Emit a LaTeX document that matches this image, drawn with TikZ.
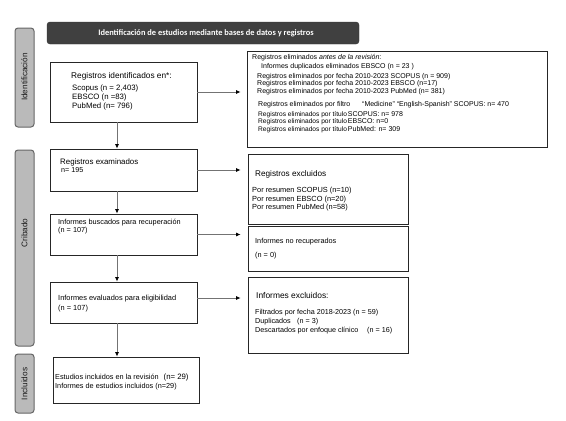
\documentclass[tikz,border=0pt]{standalone}
\usepackage{fontspec}
\setmainfont{Liberation Sans}
\newfontfamily\titlefont{Carlito}
\usetikzlibrary{arrows.meta}

\begin{document}
\begin{tikzpicture}[
  x=1pt, y=-1pt,
  box/.style    ={rectangle, draw=black!85, line width=0.9pt, inner sep=0pt},
  side/.style   ={rectangle, rounded corners=3pt, draw=black!60, fill=black!27, line width=1pt, minimum width=19pt, inner sep=0pt},
  sidetxt/.style={rotate=90, inner sep=0pt, text=black!90, font=\fontsize{8.2}{9.6}\selectfont},
  txt/.style    ={anchor=north west, inner sep=0pt, align=left},
  head/.style   ={rectangle, rounded corners=3pt, draw=black!80, fill=black!75, text=white, font=\titlefont\bfseries\fontsize{8.4}{10}\selectfont, minimum width=312pt, minimum height=22pt, inner sep=0pt},
  flow/.style   ={-{Latex[length=4.5pt,width=4pt,color=black]}, draw=black!55, line width=0.7pt},
]
\useasboundingbox (0,0) rectangle (566,421);
% phase bars
\node[side, minimum height=99pt]  (sideid)   at (24.5,77.5)  {};
\node[side, minimum height=196pt] (sidecrib) at (24.5,248)   {};
\node[side, minimum height=59pt]  (sideincl) at (24.5,383.5) {};
\node[sidetxt] (sideidtxt)   at (24.5,77)  {Identificación};
\node[sidetxt] (sidecribtxt) at (24.5,233) {Cribado};
\node[sidetxt] (sideincltxt) at (24.5,384) {Incluidos};
% header
\node[head] (title) at (203,33) {\hspace*{6pt}Identificación de estudios mediante bases de datos y registros};
% main column
\node[box, minimum width=147pt, minimum height=60pt] (ident) at (123.5,92)    {};
\node[box, minimum width=147pt, minimum height=42pt] (exam)  at (123.5,170)   {};
\node[box, minimum width=147pt, minimum height=41pt] (busc)  at (123.5,234.5) {};
\node[box, minimum width=147pt, minimum height=41pt] (eleg)  at (123.5,302.5) {};
\node[box, minimum width=146pt, minimum height=46pt] (incl)  at (126,380)     {};
% side column
\node[box, minimum width=300pt, minimum height=96pt] (elim)    at (397,99)    {};
\node[box, minimum width=160pt, minimum height=70pt] (excl)    at (328,189)   {};
\node[box, minimum width=160pt, minimum height=45pt] (norec)   at (328,248.5) {};
\node[box, minimum width=160pt, minimum height=76pt] (infexcl) at (328,315)   {};
% texts
\node[txt, font=\fontsize{7.8}{9}\selectfont] (identtxt) at (71,72.5)
  {{\fontsize{8.3}{9}\selectfont Registros identificados en*:}\\[2.8pt]
   \hspace*{1pt}Scopus (n = 2,403)\\ \hspace*{1pt}EBSCO (n =83)\\ \hspace*{1pt}PubMed (n= 796)};
\node[txt, font=\fontsize{7.9}{7.6}\selectfont] (examtxt) at (60,159)
  {Registros examinados\\\hspace*{1pt}{\fontsize{7.2}{7.6}\selectfont n= 195}};
\node[txt, font=\fontsize{7.3}{8.4}\selectfont] (busctxt) at (58,219)
  {Informes buscados para recuperación\\(n = 107)};
\node[txt, font=\fontsize{7.4}{10}\selectfont] (elegtxt) at (58,295)
  {Informes evaluados para eligibilidad\\(n = 107)};
\node[txt, font=\fontsize{7.3}{8.3}\selectfont] (incltxt) at (55,374)
  {Estudios incluidos en la revisión\hspace{5pt}{\fontsize{7.8}{8.3}\selectfont(n= 29)}\\Informes de estudios incluidos (n=29)};
\node[txt, font=\fontsize{7}{7.7}\selectfont] (elimtxt) at (252,54)
  {Registros eliminados \textit{antes de la revisión}:\\[1.5pt]
   \hspace*{9pt}Informes duplicados eliminados EBSCO (n = 23 )\\[1.8pt]
   \hspace*{5pt}Registros eliminados por fecha 2010-2023 SCOPUS (n = 909)\\
   \hspace*{5pt}Registros eliminados por fecha 2010-2023 EBSCO (n=17)\\
   \hspace*{5pt}Registros eliminados por fecha 2010-2023 PubMed (n= 381)\\[5pt]
   \hspace*{6pt}\makebox[104pt][l]{Registros eliminados por filtro}“Medicine” “English-Spanish” SCOPUS: n= 470\\[2.3pt]
   \hspace*{6pt}{\fontsize{6.6}{7.7}\selectfont Registros eliminados por título}\hspace{1pt}SCOPUS: n= 978\\
   \hspace*{6pt}{\fontsize{6.6}{7.7}\selectfont Registros eliminados por título}\hspace{1pt}EBSCO: n=0\\
   \hspace*{6pt}{\fontsize{6.6}{7.7}\selectfont Registros eliminados por título}\hspace{1pt}PubMed: n= 309};
\node[txt, font=\fontsize{7.4}{8.3}\selectfont] (excltxt) at (252,170)
  {\hspace*{3pt}{\fontsize{8.2}{9}\selectfont Registros excluidos}\\[8.5pt]
   Por resumen SCOPUS (n=10)\\ Por resumen EBSCO (n=20)\\ Por resumen PubMed (n=58)};
\node[txt, font=\fontsize{7.3}{8.5}\selectfont] (norectxt) at (255,238)
  {Informes no recuperados\\[5.8pt](n = 0)};
\node[txt, font=\fontsize{7.2}{9}\selectfont] (infexcltxt) at (255,292.5)
  {\hspace*{1pt}{\fontsize{8.4}{9}\selectfont Informes excluidos:}\\[6.6pt]
   Filtrados por fecha 2018-2023 (n = 59)\\
   \makebox[42pt][l]{Duplicados}(n = 3)\\
   \makebox[112pt][l]{Descartados por enfoque clínico}(n = 16)};
% arrows
\coordinate (spine) at (117,0);
\draw[flow] (ident.south -| spine) -- (exam.north -| spine);
\draw[flow] (exam.south -| spine)  -- (busc.north -| spine);
\draw[flow] (busc.south -| spine)  -- (eleg.north -| spine);
\draw[flow] (eleg.south -| spine)  -- (incl.north -| spine);
\draw[flow, shorten >=6pt] (ident.east) -- (ident.east -| elim.west);
\draw[flow, shorten >=7pt] (exam.east)  -- (exam.east -| excl.west);
\draw[flow, shorten >=7pt] (busc.east)  -- (busc.east -| norec.west);
\draw[flow, shorten >=7pt] ([yshift=4.5pt]eleg.east) -- ([yshift=4.5pt]eleg.east -| infexcl.west);
\end{tikzpicture}
\end{document}
